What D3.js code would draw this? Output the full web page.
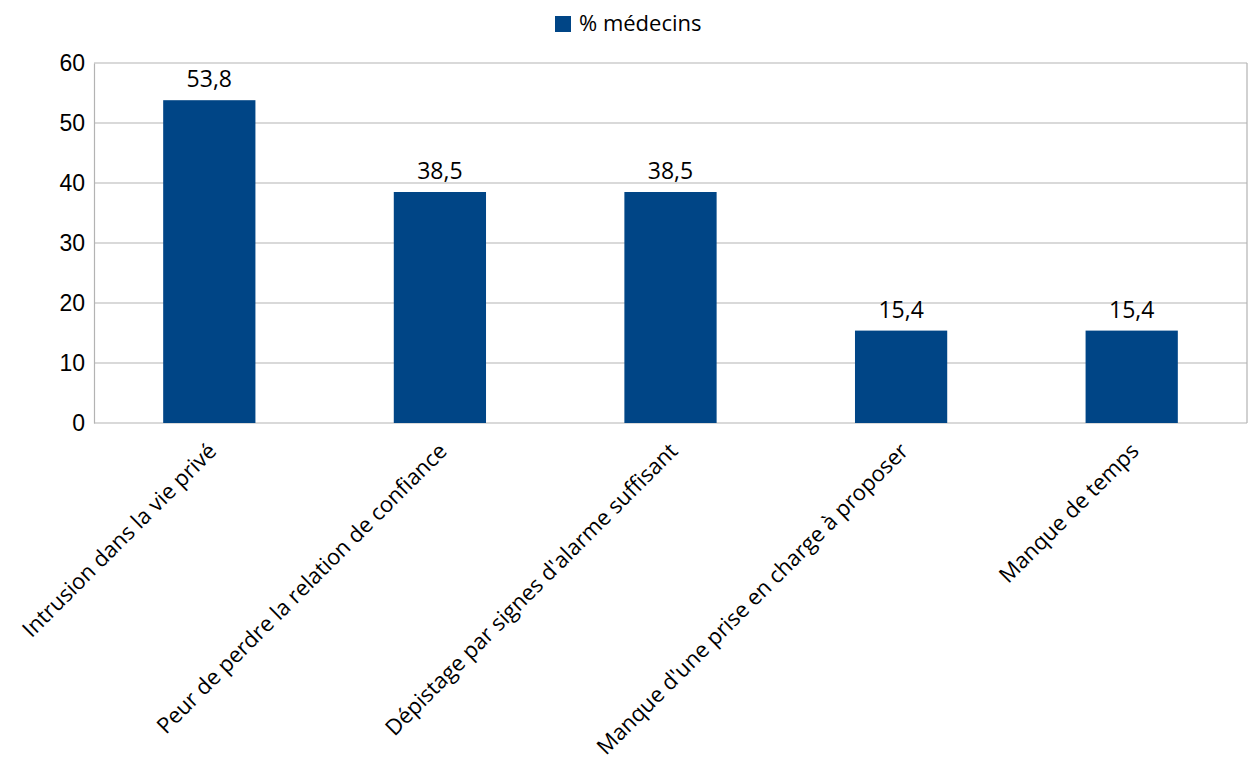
<!DOCTYPE html>
<html>
<head>
<meta charset="utf-8">
<script src="https://cdn.jsdelivr.net/npm/d3@7.9.0/dist/d3.min.js"></script>
<style>
  body { margin: 0; background: #fff; }
  svg { font-family: "Open Sans", "Noto Sans", sans-serif; }
</style>
</head>
<body>
<svg id="chart" width="1249" height="769"></svg>
<script>
const categories = [
  'Intrusion dans la vie privé',
  'Peur de perdre la relation de confiance',
  "Dépistage par signes d'alarme suffisant",
  "Manque d'une prise en charge à proposer",
  'Manque de temps'
];
const values = [53.8, 38.5, 38.5, 15.4, 15.4];
const yTicks = [0, 10, 20, 30, 40, 50, 60];
const seriesName = '% médecins';

const svg = d3.select('#chart');
const margin = { top: 63, right: 2, bottom: 346, left: 94 };
const width = 1249 - margin.left - margin.right;
const height = 769 - margin.top - margin.bottom;
const g = svg.append('g').attr('transform', `translate(${margin.left},${margin.top})`);

let x = d3.scaleBand()
  .domain(categories)
  .range([0, width])
  .paddingInner(0.6)
  .paddingOuter(0.3);

let y = d3.scaleLinear().domain([0, 60]).range([height, 0]);

// gridlines
g.selectAll('line.grid')
  .data(yTicks)
  .join('line')
  .attr('class', 'grid')
  .attr('x1', 0)
  .attr('x2', width)
  .attr('y1', d => y(d))
  .attr('y2', d => y(d))
  .attr('stroke', '#b3b3b3')
  .attr('stroke-width', 1.2);

// right border
g.append('line')
  .attr('x1', width).attr('x2', width)
  .attr('y1', 0).attr('y2', height)
  .attr('stroke', '#b3b3b3').attr('stroke-width', 1.2);

// y axis
let yAxis = g.append('g')
  .call(d3.axisLeft(y).tickValues(yTicks).tickSize(0).tickPadding(9));
yAxis.select('.domain').attr('stroke', '#b3b3b3').attr('stroke-width', 1.2);
yAxis.selectAll('text')
  .attr('font-size', 23)
  .attr('fill', '#000');

// bars
g.selectAll('rect.bar')
  .data(values)
  .join('rect')
  .attr('class', 'bar')
  .attr('x', (d, i) => x(categories[i]))
  .attr('width', x.bandwidth())
  .attr('y', d => y(d))
  .attr('height', d => height - y(d))
  .attr('fill', '#004586');

// value labels
g.selectAll('text.val')
  .data(values)
  .join('text')
  .attr('class', 'val')
  .attr('x', (d, i) => x(categories[i]) + x.bandwidth() / 2)
  .attr('y', d => y(d) - 13)
  .attr('text-anchor', 'middle')
  .attr('font-size', 23)
  .text(d => d.toFixed(1).replace('.', ','));

// x labels (rotated)
g.selectAll('text.cat')
  .data(categories)
  .join('text')
  .attr('class', 'cat')
  .attr('text-anchor', 'end')
  .attr('font-size', 22)
  .attr('transform', d => {
    let cx = x(d) + x.bandwidth() / 2 + 3;
    return `translate(${cx},${height + 24}) rotate(-45)`;
  })
  .attr('dy', '0.35em')
  .text(d => d);

// legend
let legend = svg.append('g').attr('transform', 'translate(555,16)');
legend.append('rect')
  .attr('width', 16).attr('height', 16)
  .attr('fill', '#004586');
legend.append('text')
  .attr('x', 24).attr('y', 15)
  .attr('font-size', 22)
  .text(seriesName);
</script>
</body>
</html>
